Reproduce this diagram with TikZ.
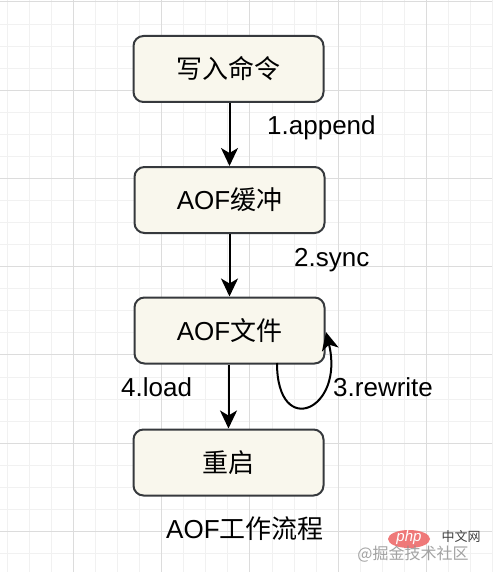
\documentclass[tikz,border=0pt]{standalone}
\usepackage{fontspec}
\setmainfont{Liberation Sans}
\newfontfamily\cjk{Noto Sans CJK SC}
\usetikzlibrary{arrows.meta}
\definecolor{boxfill}{HTML}{F9F7ED}
\definecolor{boxline}{HTML}{36393D}
\definecolor{gridminor}{HTML}{F1F1F1}
\definecolor{gridmajor}{HTML}{DCDCDC}
\definecolor{phpred}{HTML}{EE6B6B}
\begin{document}
\begin{tikzpicture}[x=1pt,y=-1pt,
  box/.style={draw=boxline, fill=boxfill, line width=2pt, rounded corners=10pt,
    minimum width=190pt, minimum height=66pt, inner sep=0pt,
    font=\fontsize{26}{30}\selectfont},
  flow/.style={line width=2pt, -{Stealth[length=18pt,width=17pt,inset=5pt]}},
  lbl/.style={anchor=base west, inner sep=0pt, font=\fontsize{26}{30}\selectfont},
  minorline/.style={draw=gridminor, line width=1pt},
  majorline/.style={draw=gridmajor, line width=1pt}]
\fill[white] (0,0) rectangle (492,572);
\useasboundingbox (0,0) rectangle (492,572);
% grid
\foreach \k in {-3,...,19} {
  \draw[minorline] ({73.5+22.06*\k},0) -- ++(0,572);
}
\foreach \k in {0,...,25} {
  \draw[minorline] (0,{2+22.06*\k}) -- ++(492,0);
}
\foreach \k in {0,4,...,16} {
  \draw[majorline] ({73.5+22.06*\k},0) -- ++(0,572);
}
\foreach \k in {0,4,...,24} {
  \draw[majorline] (0,{2+22.06*\k}) -- ++(492,0);
}
% boxes
\node[box] (b1) at (228.5,69) {{\cjk 写入命令}};
\node[box] (b2) at (229.5,200) {AOF{\cjk 缓冲}};
\node[box] (b3) at (229.5,330.5) {AOF{\cjk 文件}};
\node[box] (b4) at (228.5,462.5) {{\cjk 重启}};
% connectors
\draw[flow] (b1.south -| 229.5,0) -- (b2.north -| 229.5,0);
\draw[flow] (b2) -- (b3);
\draw[flow] (b3.south -| 228.5,0) -- (b4.north -| 228.5,0);
\coordinate (loopS) at (277,363);
\coordinate (loopE) at (326,332);
\draw[flow] (loopS) .. controls (277,440) and (345,410) .. (loopE);
% labels
\node[lbl] (l1) at (267,135) {1.append};
\node[lbl] (l2) at (294,266) {2.sync};
\node[lbl] (l3) at (333,396) {3.rewrite};
\node[lbl] (l4) at (121,396) {4.load};
\node[lbl] (title) at (166,538) {AOF{\cjk 工作流程}};
% watermark
\fill[phpred, opacity=0.9] (409,539) ellipse [x radius=21, y radius=9];
\node[text=white, font=\fontsize{15}{16}\selectfont\itshape, inner sep=0pt] (php) at (409,538) {php};
\node[text=black!75, font=\fontsize{13}{14}\selectfont\cjk, inner sep=0pt] (zw) at (461,537) {中文网};
\node[text=black!45, opacity=0.8, font=\fontsize{16}{18}\selectfont\cjk, inner sep=0pt] (jj) at (413,554) {@掘金技术社区};
\end{tikzpicture}
\end{document}
